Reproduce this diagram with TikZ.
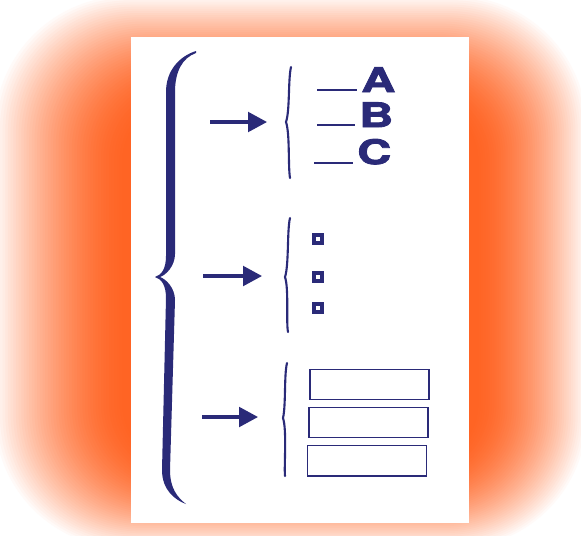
\documentclass[tikz,border=0pt]{standalone}
\usepackage{fontspec}
\usepackage{tikz}
\usetikzlibrary{arrows.meta}
\newfontface\capsfont{texgyreheros-bold.otf}[FakeStretch=1.4, FakeBold=2.5]
\definecolor{inkNavy}{HTML}{2A2A78}
\definecolor{glowO}{HTML}{FF6424}

\begin{document}
\begin{tikzpicture}[
    x=0.25mm, y=-0.25mm,
    pointer/.style={-{Triangle[length=13.5pt,width=14pt]}, line width=2.2pt, draw=inkNavy},
    thinbrace/.style={draw=inkNavy, line width=1.5pt, line cap=round},
    blank/.style={draw=inkNavy, line width=1.4pt},
    letter/.style={inner sep=0pt, anchor=base west, text=inkNavy, font=\capsfont\fontsize{24}{24}\selectfont},
    dot/.style={rectangle, draw=inkNavy, line width=3pt, fill=white, minimum size=2mm, inner sep=0pt},
    field/.style={rectangle, draw=inkNavy, line width=1.4pt, minimum width=29.75mm, minimum height=7.5mm, inner sep=0pt}
]
\useasboundingbox (0,0) rectangle (581,535);
\clip (0,0) rectangle (581,535);

% ---- BACKGROUND GLOW ----
\fill[white] (0,0) rectangle (581,535);
\foreach \i in {0,...,50} {
    \pgfmathsetmacro\t{\i/50}
    \pgfmathsetmacro\p{100*(1-(1-\t)^1.6)}
    \pgfmathsetmacro\r{95-50*\t}
    \fill[glowO!\p!white, rounded corners=\r pt]
        ({-8+133*\t},{-6+106*\t}) rectangle ({589-113*\t},{550-85*\t});
}

% ---- PAPER ----
\fill[white] (131,37) rectangle (469,523);

% big brace
\fill[inkNavy] (196,51) .. controls (180,56) and (166,70) .. (166,92)
    -- (166,256) .. controls (166,268) and (162,275) .. (155,277)
    .. controls (162,279) and (166,286) .. (166,298)
    -- (162,470) .. controls (162,490) and (175,500) .. (186,504)
    .. controls (177,497) and (170,488) .. (170,470)
    -- (175,300) .. controls (175,288) and (166,279) .. (160,277)
    .. controls (166,275) and (175,266) .. (175,254)
    -- (175,92) .. controls (175,72) and (182,58) .. (196,53) -- cycle;

% ---- GROUP 1: letters ----
\coordinate (p1s) at (210,122);
\coordinate (p1e) at (267,122);
\draw[pointer] (p1s) -- (p1e);
\draw[thinbrace] (291,67) .. controls (288,80) and (290,110) .. (286,122)
    .. controls (290,134) and (288,166) .. (290,178);
\node[letter] (la) at (361,92) {A};
\node[letter] (lb) at (359,127) {B};
\node[letter] (lc) at (357,164) {C};
\coordinate (ua) at (317,90);
\coordinate (ub) at (317,125);
\coordinate (uc) at (314,163);
\draw[blank] (ua) -- ++(40,0);
\draw[blank] (ub) -- ++(38,0);
\draw[blank] (uc) -- ++(39,0);

% ---- GROUP 2: squares ----
\coordinate (p2s) at (203,276);
\coordinate (p2e) at (262,276);
\draw[pointer] (p2s) -- (p2e);
\draw[thinbrace] (290,218) .. controls (287,230) and (289,265) .. (285,277)
    .. controls (289,289) and (286,322) .. (288,332);
\node[dot] (d1) at (318,239) {};
\node[dot] (d2) at (318,277) {};
\node[dot] (d3) at (318,308) {};

% ---- GROUP 3: boxes ----
\coordinate (p3s) at (202,417);
\coordinate (p3e) at (258,417);
\draw[pointer] (p3s) -- (p3e);
\draw[thinbrace] (287,363) .. controls (284,375) and (286,405) .. (283,418)
    .. controls (287,430) and (284,466) .. (285,476);
\node[field] (f1) at (369.5,384.5) {};
\node[field] (f2) at (368.5,422.5) {};
\node[field] (f3) at (367,460.5) {};
\end{tikzpicture}
\end{document}
